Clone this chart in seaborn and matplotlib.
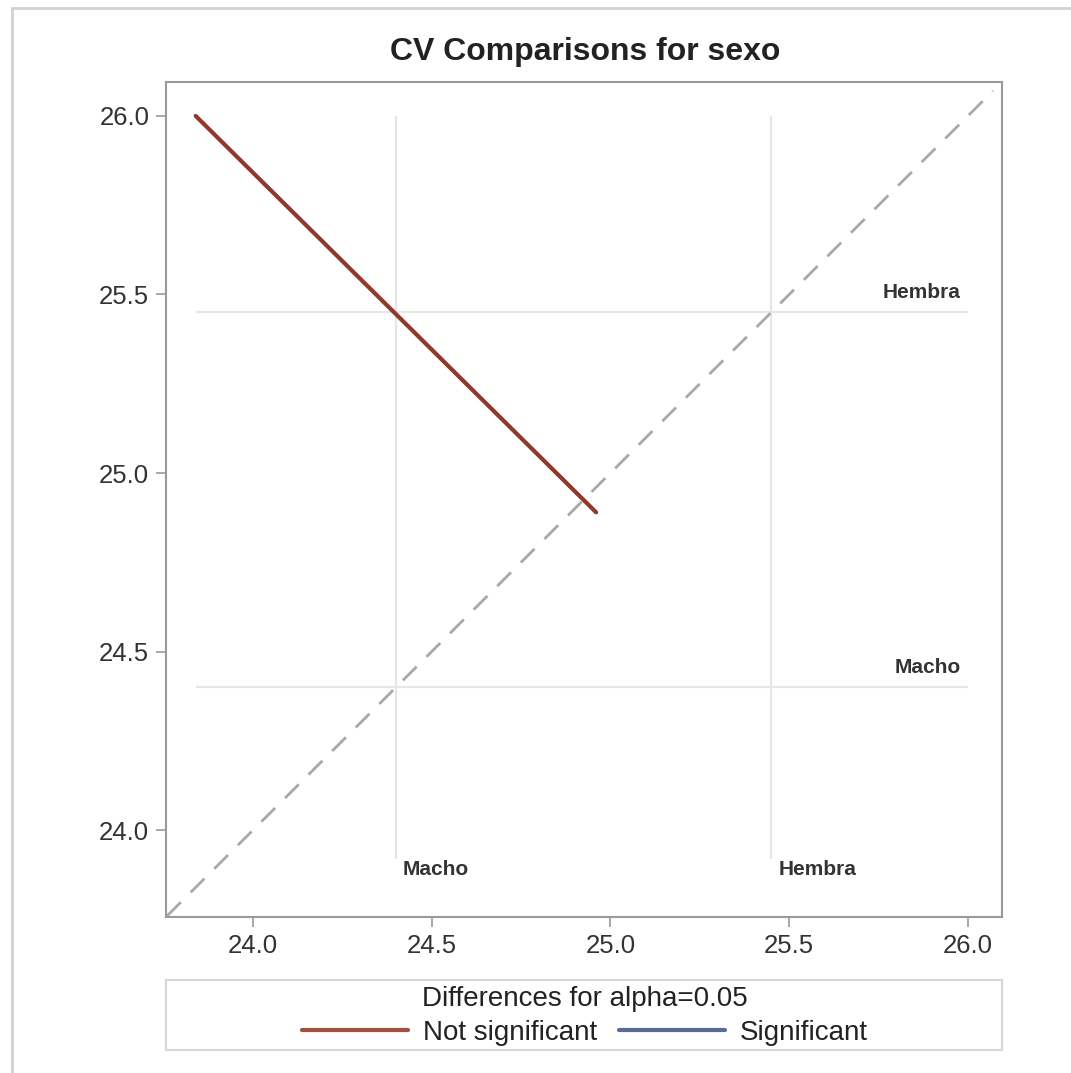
import matplotlib
matplotlib.use("Agg")
import matplotlib.pyplot as plt
import seaborn as sns
import pandas as pd
from matplotlib.lines import Line2D
from matplotlib.patches import Rectangle

# data
levels = ["Macho", "Hembra"]
lsmeans = [24.40, 25.45]
seg_x = [23.84, 24.96]   # Macho vs Hembra difference segment
seg_y = [26.00, 24.89]
diag = [23.76, 26.07]
ticks = [24.0, 24.5, 25.0, 25.5, 26.0]

sns.set_theme(style="white")
plt.rcParams["font.family"] = ["Liberation Sans", "DejaVu Sans"]

fig = plt.figure(figsize=(10.71, 10.73), dpi=100)
ax = fig.add_axes([0.155, 0.1454, 0.7805, 0.7782])

# reference lines at the means
ax.vlines(lsmeans, 23.92, 26.0, color="#e6e6e6", lw=1.5, zorder=1)
ax.hlines(lsmeans, 23.84, 26.0, color="#e6e6e6", lw=1.5, zorder=1)

# y = x diagonal
sns.lineplot(x=diag, y=diag, ax=ax, color="#a8a8a8", lw=2,
             linestyle=(0, (7, 5)), zorder=2)

df = pd.DataFrame({"x": seg_x, "y": seg_y})
sns.lineplot(data=df, x="x", y="y", sort=False, ax=ax, color="#8f392c",
             lw=3, zorder=3)

# level labels
for lev, m in zip(levels, lsmeans):
    ax.text(25.98, m + 0.03, lev, ha="right", va="bottom", fontsize=15,
            fontweight="bold", color="#333333")
    ax.text(m + 0.02, 23.89, lev, ha="left", va="center", fontsize=15,
            fontweight="bold", color="#333333")

ax.set_xlim(23.757, 26.095)
ax.set_ylim(23.757, 26.095)
ax.set_xticks(ticks)
ax.set_yticks(ticks)
ax.set_xticklabels([f"{t:.1f}" for t in ticks])
ax.set_yticklabels([f"{t:.1f}" for t in ticks])
ax.tick_params(axis="both", which="major", length=7, width=1.2,
               color="#999999", labelsize=18.5, labelcolor="#333333",
               direction="out", bottom=True, left=True, pad=5)
ax.set_xlabel("")
ax.set_ylabel("")
for s in ax.spines.values():
    s.set_color("#9a9a9a")
    s.set_linewidth(1.5)

fig.text(585 / 1071, 1 - 52 / 1073, "CV Comparisons for sexo", ha="center",
         va="center", fontsize=23, fontweight="bold", color="#222222")

# legend box
fig.add_artist(Rectangle((166 / 1071, 1 - 1050 / 1073), 836 / 1071, 70 / 1073,
                         transform=fig.transFigure, fill=False,
                         edgecolor="#d6d6d6", lw=1.5))
handles = [Line2D([], [], color="#a0503e", lw=3),
           Line2D([], [], color="#5a6a92", lw=3)]
leg = fig.legend(handles, ["Not significant", "Significant"], ncol=2,
                 loc="center", bbox_to_anchor=(585 / 1071, 1 - 1016 / 1073),
                 frameon=False, fontsize=20, title="Differences for alpha=0.05",
                 title_fontsize=20, handlelength=3.8, handletextpad=0.55,
                 columnspacing=0.8, labelspacing=0.2, borderpad=0.1)
for t in leg.get_texts():
    t.set_color("#222222")
leg.get_title().set_color("#222222")
leg._legend_box.sep = 6

# outer border
fig.add_artist(Line2D([12 / 1071, 1], [1 - 8 / 1073, 1 - 8 / 1073],
                      transform=fig.transFigure, color="#d2d2d2", lw=2))
fig.add_artist(Line2D([12 / 1071, 12 / 1071], [0, 1 - 8 / 1073],
                      transform=fig.transFigure, color="#d2d2d2", lw=2))

fig.savefig("out.png", dpi=100)
